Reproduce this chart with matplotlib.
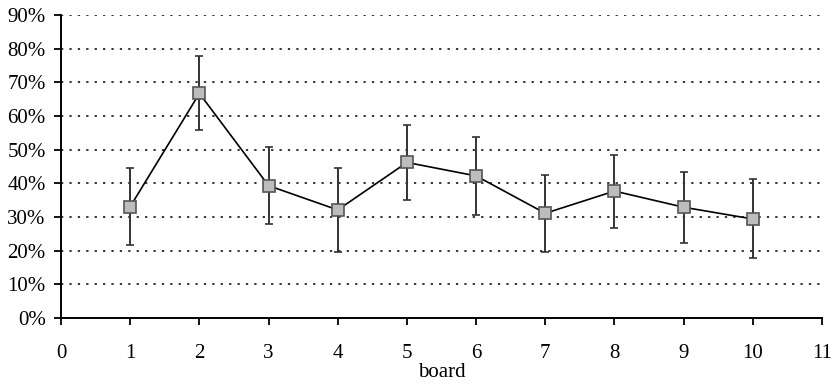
import matplotlib
matplotlib.use("Agg")
import matplotlib.pyplot as plt
from matplotlib.ticker import FuncFormatter

# data
boards = [1, 2, 3, 4, 5, 6, 7, 8, 9, 10]
share = [33.1, 66.7, 39.3, 32.1, 46.2, 42.2, 31.1, 37.7, 32.9, 29.4]
err_lo = [11.4, 10.8, 11.4, 12.4, 11.2, 11.6, 11.4, 11.1, 10.6, 11.7]
err_hi = [11.4, 11.1, 11.5, 12.4, 11.2, 11.5, 11.4, 10.7, 10.6, 11.9]
yticks = [0, 10, 20, 30, 40, 50, 60, 70, 80, 90]
xticks = list(range(0, 12))

plt.rcParams['font.family'] = ['Liberation Serif', 'DejaVu Serif']

fig = plt.figure(figsize=(8.33, 3.89), dpi=100)
ax = fig.add_axes([0.0733, 0.1825, 0.9135, 0.779])

for y in yticks[1:]:
    ax.axhline(y, color='black', lw=1.1, ls=(0, (1.5, 4)), zorder=1)

ax.errorbar(boards, share, yerr=[err_lo, err_hi], color='black', lw=1.2,
            ecolor='#333333', elinewidth=1.4, capsize=3, capthick=1.4,
            marker='s', markersize=9, markerfacecolor='#bdbdbd',
            markeredgecolor='#555555', markeredgewidth=1.2, zorder=3)

ax.set_xlim(0, 11)
ax.set_ylim(0, 90)
ax.set_xticks(xticks)
ax.set_yticks(yticks)
ax.yaxis.set_major_formatter(FuncFormatter(lambda v, p: "%d%%" % v))
ax.spines['top'].set_visible(False)
ax.spines['right'].set_visible(False)
for s in ['left', 'bottom']:
    ax.spines[s].set_linewidth(1.4)
ax.tick_params(axis='x', direction='out', length=5, width=1.3, pad=14, labelsize=15)
ax.tick_params(axis='y', direction='out', length=5, width=1.3, pad=6, labelsize=15)
ax.set_xlabel("board", fontsize=15, labelpad=0)

fig.savefig("out.png", dpi=100)
